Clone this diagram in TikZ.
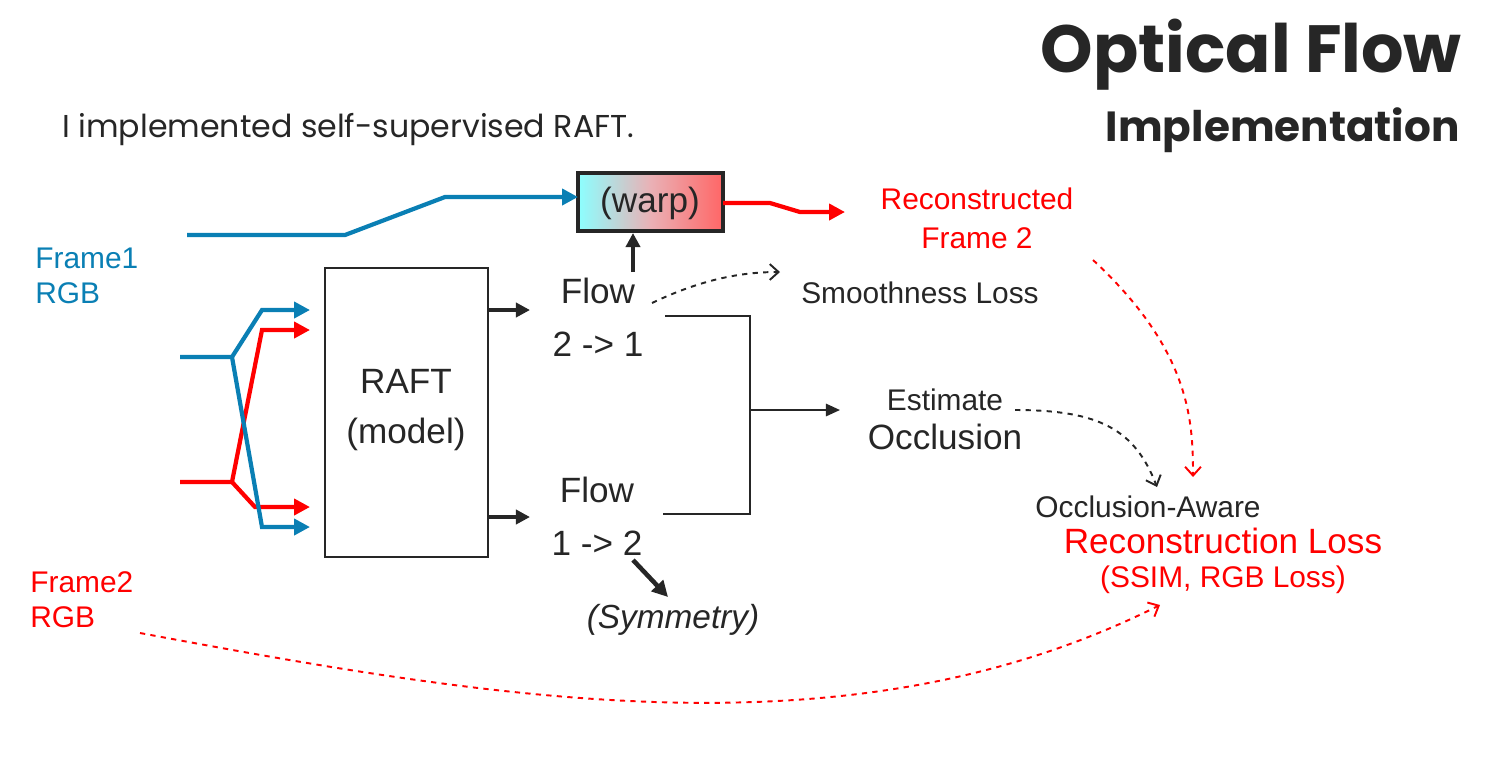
\documentclass[tikz,border=0pt]{standalone}
\usepackage{fontspec}
\setmainfont{Liberation Sans}
\newfontfamily\titlefont{Poppins}
\usetikzlibrary{arrows.meta}
\definecolor{fblue}{HTML}{0A7FB4}
\definecolor{fred}{HTML}{FF0000}
\definecolor{ink}{HTML}{262626}
\begin{document}
\begin{tikzpicture}[x=0.02cm,y=-0.02cm,
    txt/.style={text=ink,font=\fontsize{17}{20}\selectfont,align=center,inner sep=0pt},
    big/.style={text=ink,font=\fontsize{20}{24}\selectfont,align=center,inner sep=0pt},
    feed/.style={line width=2.4pt,-{Triangle[length=9pt,width=9pt]}},
    blk/.style={ink,line width=2.4pt,-{Triangle[length=8pt,width=8pt]}},
    thin/.style={ink,line width=1.2pt},
    dashlink/.style={dashed,line width=1.1pt,-{Straight Barb[length=5pt,width=9pt]}}]
\useasboundingbox (0,0) rectangle (1500,762);

% titles
\node[anchor=east,text=ink,font=\titlefont\bfseries\fontsize{38}{40}\selectfont,inner sep=0pt] (ttl) at (1462,55) {Optical Flow};
\node[anchor=east,text=ink,font=\titlefont\bfseries\fontsize{24}{28}\selectfont,inner sep=0pt] (sub) at (1460,130) {Implementation};
\node[anchor=west,text=ink,font=\titlefont\fontsize{18}{22}\selectfont,inner sep=0pt] (intro) at (62,130) {I implemented self-supervised RAFT.};

% inputs
\node[anchor=west,txt,text=fblue,align=left] (f1) at (35,276) {Frame1\\RGB};
\node[anchor=west,txt,text=fred,align=left] (f2) at (30,600) {Frame2\\RGB};

% model and warp
\draw[ink,line width=0.9pt] (325,268) rectangle (488,557);
\node[big] (raft) at (406,410) {RAFT\\[4pt](model)};
\shade[left color=cyan!45,right color=fred!60,middle color=fblue!25!fred!35] (578,173) rectangle (723,231);
\draw[ink,line width=2.8pt] (578,173) rectangle (723,231);
\node[big] (warp) at (650,203) {(warp)};

% feeds into RAFT
\draw[feed,fblue] (187,235) -- (345,235) -- (445,197) -- (578,197);
\draw[feed,fred] (723,203) -- (770,203) -- (800,212) -- (845,212);
\draw[feed,fred] (180,482) -- (232,482) -- (262,330) -- (310,330);
\draw[feed,fred] (232,482) -- (255,507) -- (310,507);
\draw[feed,fblue] (180,357) -- (232,357) -- (262,310) -- (310,310);
\draw[feed,fblue] (232,357) -- (262,527) -- (310,527);

% flows
\node[big] (fa) at (598,317) {Flow\\[6pt]2 -> 1};
\node[big] (fb) at (597,516) {Flow\\[6pt]1 -> 2};
\draw[blk] (488,310) -- (530,310);
\draw[blk] (488,517) -- (530,517);
\draw[blk] (633,272) -- (633,233);
\draw[thin] (665,316) -- (750,316) -- (750,514) -- (663,514);
\draw[thin,-{Triangle[length=8pt,width=7pt]}] (750,410) -- (840,410);
\draw[ink,line width=2.6pt,-{Triangle[length=9pt,width=9pt]}] (633,560) -- (668,597);
\node[big,font=\itshape\fontsize{19}{22}\selectfont] (sym) at (673,620) {(Symmetry)};

% losses
\node[txt] (smooth) at (920,293) {Smoothness Loss};
\node[txt,text=fred] (recon) at (977,218) {Reconstructed\\[2pt]Frame 2};
\node[txt] (est) at (945,400) {Estimate};
\node[big] (occ) at (945,437) {Occlusion};
\node[txt] (aware) at (1148,507) {Occlusion-Aware};
\node[big,text=fred] (rloss) at (1223,541) {Reconstruction Loss};
\node[txt,text=fred] (ssim) at (1223,580) {(SSIM, RGB Loss)};

\draw[dashlink,ink] (652,303) .. controls (700,280) and (740,272) .. (780,272);
\draw[dashlink,fred] (1093,260) .. controls (1190,350) and (1193,420) .. (1193,477);
\draw[dashlink,ink] (1015,410) .. controls (1100,410) and (1135,430) .. (1157,487);
\draw[dashlink,fred] (140,633) .. controls (500,700) and (850,760) .. (1160,605);
\end{tikzpicture}
\end{document}
